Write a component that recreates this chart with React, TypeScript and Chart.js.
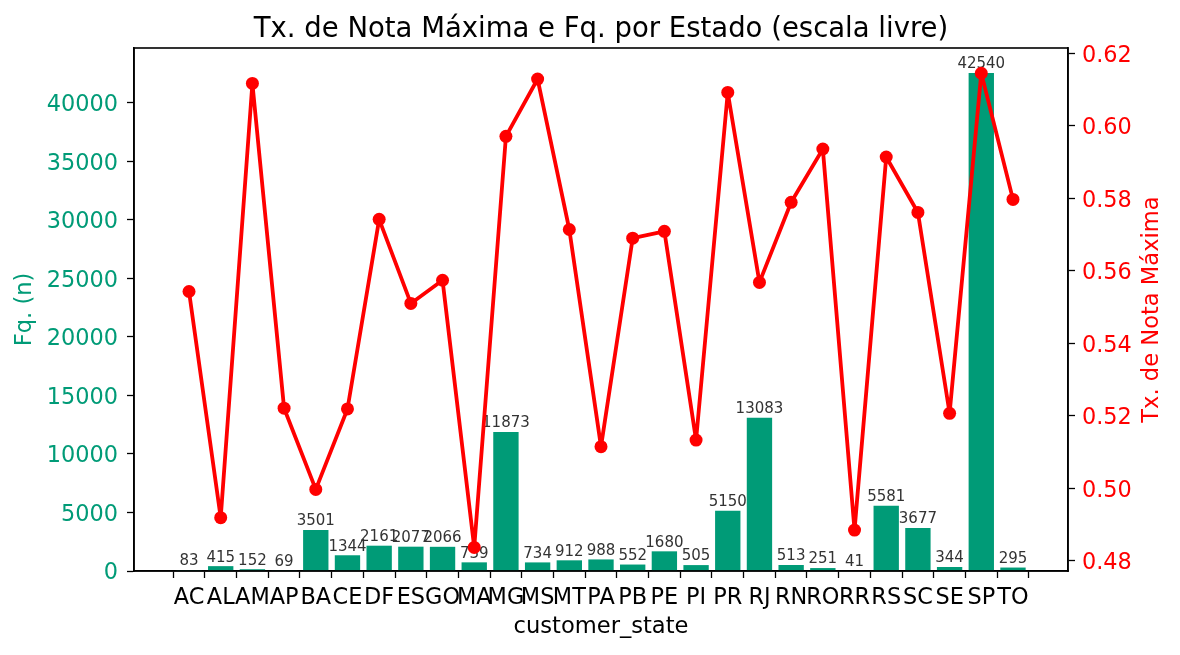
import { useEffect, useRef } from 'react';
import { Chart, registerables } from 'chart.js';

Chart.register(...registerables);

const states = [
  'AC', 'AL', 'AM', 'AP', 'BA', 'CE', 'DF', 'ES', 'GO', 'MA', 'MG', 'MS', 'MT', 'PA',
  'PB', 'PE', 'PI', 'PR', 'RJ', 'RN', 'RO', 'RR', 'RS', 'SC', 'SE', 'SP', 'TO',
];

const freq = [
  83, 415, 152, 69, 3501, 1344, 2161, 2077, 2066, 739, 11873, 734, 912, 988,
  552, 1680, 505, 5150, 13083, 513, 251, 41, 5581, 3677, 344, 42540, 295,
];

const maxRate = [
  0.5543, 0.4919, 0.6117, 0.5221, 0.4997, 0.5219, 0.5742, 0.551, 0.5574, 0.4837,
  0.5971, 0.6129, 0.5714, 0.5115, 0.569, 0.5709, 0.5133, 0.6092, 0.5568, 0.5789,
  0.5936, 0.4885, 0.5914, 0.5761, 0.5207, 0.6145, 0.5797,
];

const leftTicks = [0, 5000, 10000, 15000, 20000, 25000, 30000, 35000, 40000];
const rightTicks = [0.48, 0.5, 0.52, 0.54, 0.56, 0.58, 0.6, 0.62];

const TEAL = '#009B77';
const RED = '#FF0000';
const FONT = 'DejaVu Sans';

const W = 1180;
const H = 655;

// titles, frame and value labels drawn by hand (matplotlib look)
const decorPlugin = {
  id: 'decor',
  afterDatasetDraw(chart: any, args: any) {
    if (args.index !== 1) return;
    const ctx = chart.ctx;
    ctx.save();
    ctx.font = `15px "${FONT}"`;
    ctx.fillStyle = '#333333';
    ctx.textAlign = 'center';
    ctx.textBaseline = 'bottom';
    args.meta.data.forEach((bar: any, i: number) => {
      ctx.fillText(String(freq[i]), bar.x, bar.y - 1);
    });
    ctx.restore();
  },
  afterDraw(chart: any) {
    const { ctx, chartArea } = chart;
    const cx = (chartArea.left + chartArea.right) / 2;
    const cy = (chartArea.top + chartArea.bottom) / 2;
    ctx.save();
    ctx.strokeStyle = '#000';
    ctx.lineWidth = 1.6;
    ctx.strokeRect(chartArea.left, chartArea.top, chartArea.right - chartArea.left, chartArea.bottom - chartArea.top);

    ctx.fillStyle = '#000';
    ctx.textAlign = 'center';
    ctx.textBaseline = 'alphabetic';
    ctx.font = `27.5px "${FONT}"`;
    ctx.fillText('Tx. de Nota Máxima e Fq. por Estado (escala livre)', cx, 37);

    ctx.font = `22.6px "${FONT}"`;
    ctx.textBaseline = 'middle';
    ctx.fillText('customer_state', cx, 627);

    ctx.save();
    ctx.translate(25, cy);
    ctx.rotate(-Math.PI / 2);
    ctx.fillStyle = TEAL;
    ctx.fillText('Fq. (n)', 0, 0);
    ctx.restore();

    ctx.save();
    ctx.translate(1152, cy);
    ctx.rotate(-Math.PI / 2);
    ctx.fillStyle = RED;
    ctx.fillText('Tx. de Nota Máxima', 0, 0);
    ctx.restore();
    ctx.restore();
  },
};

const App = () => {
  const chartRef = useRef<HTMLCanvasElement>(null);
  const chartInstance = useRef<Chart | null>(null);

  useEffect(() => {
    document.body.style.margin = '0';
    if (!chartRef.current) return;
    if (chartInstance.current) chartInstance.current.destroy();
    const ctx = chartRef.current.getContext('2d');
    if (!ctx) return;

    const tickFont = { family: FONT, size: 22.4 };
    const tickGrid = {
      drawOnChartArea: false,
      drawTicks: true,
      tickLength: 7,
      tickColor: '#000',
      tickWidth: 1.3,
    };

    chartInstance.current = new Chart(ctx, {
      type: 'bar',
      data: {
        datasets: [
          {
            type: 'line',
            label: 'Tx. de Nota Máxima',
            data: maxRate.map((v, i) => ({ x: i, y: v })),
            yAxisID: 'y1',
            borderColor: RED,
            backgroundColor: RED,
            borderWidth: 3.8,
            borderJoinStyle: 'round',
            borderCapStyle: 'round',
            pointRadius: 6.5,
            pointBackgroundColor: RED,
            pointBorderWidth: 0,
            tension: 0,
            order: 0,
          } as any,
          {
            type: 'bar',
            label: 'Fq. (n)',
            data: freq.map((v, i) => ({ x: i, y: v })),
            yAxisID: 'y',
            backgroundColor: TEAL,
            barPercentage: 0.8,
            categoryPercentage: 1,
            order: 1,
          },
        ],
      },
      options: {
        responsive: false,
        animation: false,
        devicePixelRatio: 1,
        layout: { padding: { top: 48, left: 0, right: 0, bottom: 0 } },
        plugins: {
          legend: { display: false },
          tooltip: { enabled: false },
          title: { display: false },
        },
        scales: {
          x: {
            type: 'linear',
            min: -1.736,
            max: 27.736,
            offset: false,
            afterFit: (s: any) => {
              s.height = 84;
            },
            afterBuildTicks: (s: any) => {
              s.ticks = states.map((_, i) => ({ value: i }));
            },
            ticks: {
              autoSkip: false,
              maxRotation: 0,
              minRotation: 0,
              padding: 7,
              color: '#000',
              font: tickFont,
              callback: (v: any) => states[Math.round(Number(v))] ?? '',
            },
            grid: tickGrid,
            border: { display: true, color: '#000', width: 1.6 },
          },
          y: {
            type: 'linear',
            position: 'left',
            min: 0,
            max: 44667,
            afterFit: (s: any) => {
              s.width = 134;
            },
            afterBuildTicks: (s: any) => {
              s.ticks = leftTicks.map((v) => ({ value: v }));
            },
            ticks: {
              color: TEAL,
              font: tickFont,
              padding: 9,
              labelOffset: 2.5,
              callback: (v: any) => String(v),
            },
            grid: tickGrid,
            border: { display: true, color: '#000', width: 1.6 },
          },
          y1: {
            type: 'linear',
            position: 'right',
            min: 0.4772,
            max: 0.62146,
            afterFit: (s: any) => {
              s.width = 112;
            },
            afterBuildTicks: (s: any) => {
              s.ticks = rightTicks.map((v) => ({ value: v }));
            },
            ticks: {
              color: RED,
              font: tickFont,
              padding: 7,
              labelOffset: 2.5,
              callback: (v: any) => Number(v).toFixed(2),
            },
            grid: tickGrid,
            border: { display: true, color: '#000', width: 1.6 },
          },
        },
      },
      plugins: [decorPlugin],
    });

    return () => {
      if (chartInstance.current) {
        chartInstance.current.destroy();
        chartInstance.current = null;
      }
    };
  }, []);

  return (
    <div style={{ width: W, height: H, background: '#fff' }}>
      <canvas ref={chartRef} width={W} height={H} style={{ width: W, height: H }}></canvas>
    </div>
  );
};

export default App;
